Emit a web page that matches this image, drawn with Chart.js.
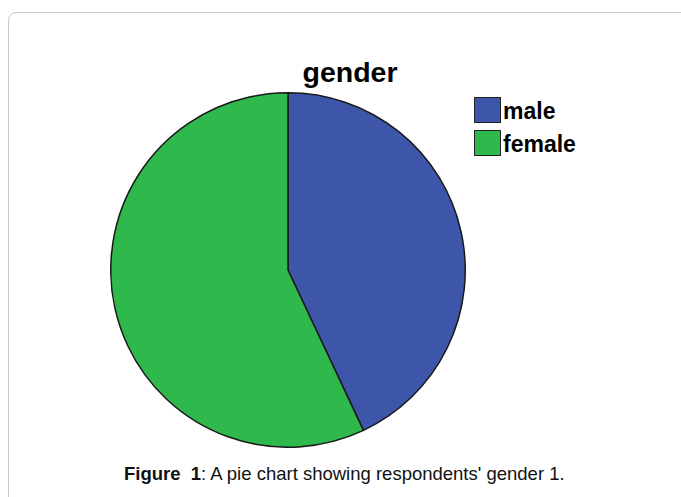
<!DOCTYPE html>
<html>
<head>
<meta charset="utf-8">
<script src="https://cdn.jsdelivr.net/npm/chart.js@4/dist/chart.umd.min.js"></script>
<style>
  body { margin: 0; background: #fff; font-family: "Liberation Sans", Arial, sans-serif; overflow: hidden; }
  #frame { position: absolute; left: 8px; top: 12px; width: 700px; height: 500px; border: 1px solid #c8c8c8; border-radius: 8px; }
  #title { position: absolute; left: 250px; top: 56px; width: 200px; text-align: center; font-weight: bold; font-size: 28.5px; color: #000; }
  #pieBox { position: absolute; left: 110px; top: 92px; width: 356px; height: 356px; }
  #legend { position: absolute; left: 474px; top: 97px; }
  .item { display: flex; align-items: flex-end; height: 26px; margin-bottom: 7px; font-weight: bold; font-size: 23px; line-height: 23px; color: #000; }
  .sw { width: 27px; height: 26px; border: 1.5px solid #222; box-sizing: border-box; margin-right: 2px; }
  #caption { position: absolute; left: 124px; top: 463px; font-size: 18.5px; color: #111; }
</style>
</head>
<body>
<div id="frame"></div>
<div id="title">gender</div>
<div id="pieBox"><canvas id="myChart_pie"></canvas></div>
<div id="legend"></div>
<div id="caption"><b>Figure&nbsp; 1</b>: A pie chart showing respondents' gender 1.</div>
<script>
const labels = ['male', 'female'];
const values = [43, 57];
const colors = ['#3d56a9', '#2fb84b'];

// legend built from the same arrays
const legend = document.getElementById('legend');
labels.forEach((l, i) => {
    const row = document.createElement('div');
    row.className = 'item';
    row.innerHTML = '<span class="sw" style="background:' + colors[i] + '"></span>' + l;
    legend.appendChild(row);
});

const ctx_pie = document.getElementById('myChart_pie').getContext('2d');
const myChart_pie = new Chart(ctx_pie, {
    type: 'pie',
    data: {
        labels: labels,
        datasets: [{
            label: 'gender',
            data: values,
            backgroundColor: colors,
            borderColor: '#1a1a1a',
            borderWidth: 1.5
        }]
    },
    options: {
        responsive: true,
        maintainAspectRatio: false,
        animation: false,
        layout: { padding: 0 },
        plugins: {
            legend: { display: false },
            title: { display: false },
            tooltip: { enabled: false }
        }
    }
});
</script>
</body>
</html>
